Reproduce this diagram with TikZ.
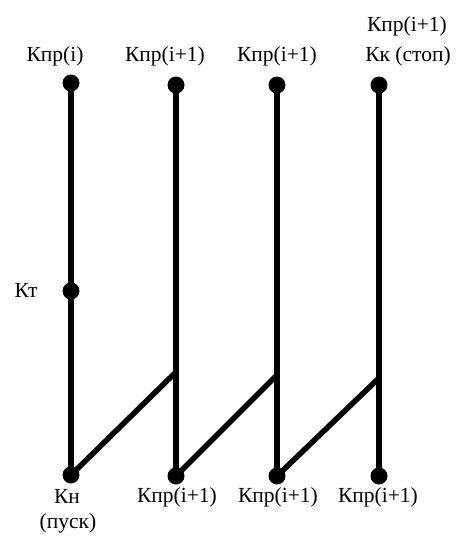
\documentclass[tikz,border=0pt]{standalone}
\usepackage{fontspec}
\setmainfont{Liberation Serif}
\begin{document}
\begin{tikzpicture}[
  x=1pt, y=-1pt,
  dot/.style={
    circle,
    fill=black,
    inner sep=0pt,
    outer sep=0pt,
    minimum size=17pt
  },
  lbl/.style={
    inner sep=0pt,
    font=\fontsize{21.5}{25}\selectfont
  },
  wire/.style={line width=5.5pt}
]
\useasboundingbox (0,0) rectangle (457,536);

% dots on the top
\node[dot] (t1) at (71,83) {};
\node[dot] (t2) at (176,85) {};
\node[dot] (t3) at (277,85) {};
\node[dot] (t4) at (379,85) {};

% dots on the bottom
\node[dot] (b1) at (71,475) {};
\node[dot] (b2) at (176,476) {};
\node[dot] (b3) at (277,476) {};
\node[dot] (b4) at (379,476) {};

\node[dot] (kt) at (71,291) {};

\coordinate (j2) at (176,372);
\coordinate (j3) at (277,375);
\coordinate (j4) at (379,378);

% labels
\node[lbl] (lt1) at (55,56) {Кпр(i)};
\node[lbl] (lt2) at (165,56) {Кпр(i+1)};
\node[lbl] (lt3) at (277,56) {Кпр(i+1)};
\node[lbl] (lt4a) at (407,26) {Кпр(i+1)};
\node[lbl] (lt4b) at (408,56) {Кк (стоп)};
\node[lbl] (lkt) at (26,290) {Кт};
\node[lbl] (lb1a) at (67,496) {Кн};
\node[lbl] (lb1b) at (68,523) {(пуск)};
\node[lbl] (lb2) at (177,497) {Кпр(i+1)};
\node[lbl] (lb3) at (278,497) {Кпр(i+1)};
\node[lbl] (lb4) at (378,497) {Кпр(i+1)};

\draw[wire] (t1.center) -- (kt.center);
\draw[wire] (kt.center) -- (b1.center);
\draw[wire] (t2.center) -- (b2.center);
\draw[wire] (t3.center) -- (b3.center);
\draw[wire] (t4.center) -- (b4.center);

\draw[wire] (b1.center) -- (j2);
\draw[wire] (b2.center) -- (j3);
\draw[wire] (b3.center) -- (j4);
\end{tikzpicture}
\end{document}
